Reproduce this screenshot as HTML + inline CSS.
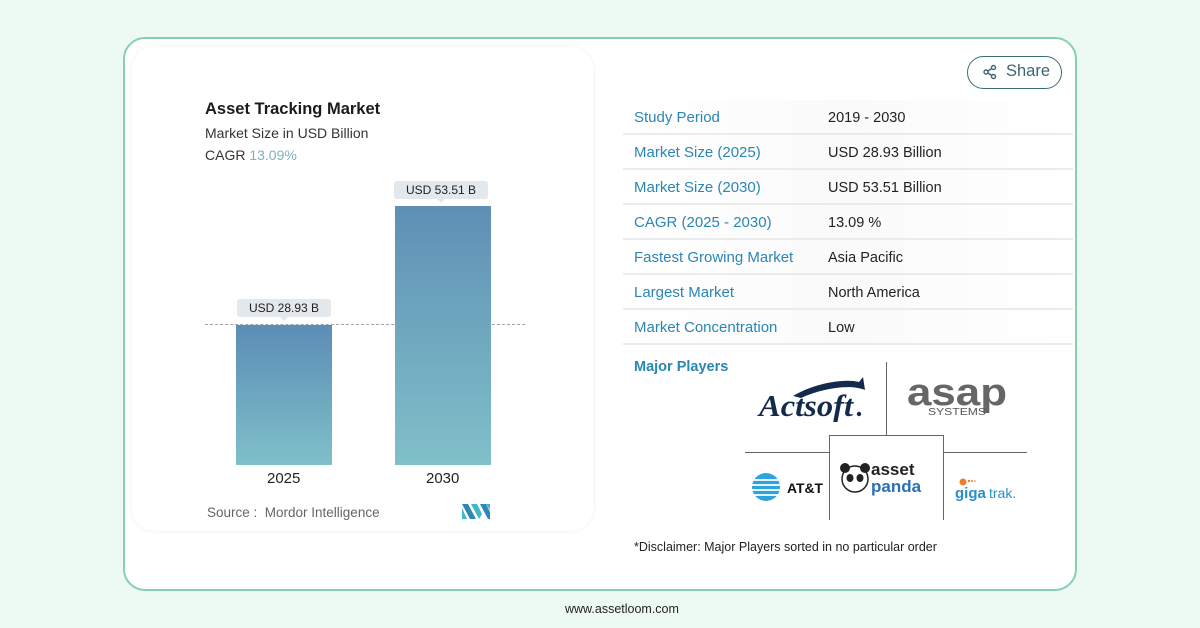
<!DOCTYPE html>
<html><head><meta charset="utf-8">
<style>
*{margin:0;padding:0;box-sizing:border-box}
html,body{width:1200px;height:628px;overflow:hidden;background:#edfaf3;font-family:"Liberation Sans",sans-serif}
.abs{position:absolute}
#outer{left:123px;top:37px;width:954px;height:554px;border:2px solid #86d0b2;border-radius:22px;background:#fff}
#inner{left:132px;top:47px;width:461px;height:484px;border-radius:22px;background:#fff;box-shadow:0 0 6px rgba(0,0,0,0.06)}
.t{position:absolute;white-space:nowrap}
.bar{position:absolute;background:linear-gradient(#5b8db5,#7fc0c9)}
.lbl{position:absolute;background:#e3e8ec;border-radius:3px;font-size:12px;color:#222;text-align:center;line-height:18px}
.lbl:after{content:"";position:absolute;left:50%;bottom:-4px;margin-left:-4px;border-left:4px solid transparent;border-right:4px solid transparent;border-top:4px solid #e3e8ec}
.row{position:absolute;left:623px;width:450px;height:35px;border-bottom:2px solid #eaecec;background:linear-gradient(90deg,#fff 0%,#fafafa 50%,#fff 100%)}
.k{position:absolute;left:11px;top:9px;font-size:15px;color:#2a86b4}
.v{position:absolute;left:205px;top:10px;font-size:14.5px;color:#222}
</style></head><body>
<div id="outer" class="abs"></div>
<div id="inner" class="abs"></div>

<div class="t" style="left:205px;top:100px;font-size:16.5px;font-weight:bold;color:#1b1b1b">Asset Tracking Market</div>
<div class="t" style="left:205px;top:125px;font-size:14px;color:#333">Market Size in USD Billion</div>
<div class="t" style="left:205px;top:147px;font-size:14px;color:#333">CAGR <span style="color:#7fb0c0">13.09%</span></div>

<div class="abs" style="left:205px;top:324px;width:320px;border-top:1.5px dashed #a0a5a9"></div>
<div class="bar" style="left:236px;top:325px;width:96px;height:140px"></div>
<div class="bar" style="left:395px;top:206px;width:96px;height:259px;background:linear-gradient(#5e90b5,#80c0c9)"></div>
<div class="lbl" style="left:237px;top:299px;width:94px;height:18px">USD 28.93 B</div>
<div class="lbl" style="left:394px;top:181px;width:94px;height:18px">USD 53.51 B</div>
<div class="t" style="left:267px;top:470px;font-size:15px;color:#222">2025</div>
<div class="t" style="left:426px;top:470px;font-size:15px;color:#222">2030</div>
<div class="t" style="left:207px;top:505px;font-size:13.5px;color:#666">Source :&nbsp; Mordor Intelligence</div>
<svg class="abs" style="left:462px;top:504px" width="28" height="15" viewBox="0 0 28 15">
<polygon points="0,0 6,0 14,15 8,15" fill="#2f86b8"/><polygon points="0,4 0,15 5,15" fill="#3fb8c8"/>
<polygon points="9,0 15,0 20,10 17,15" fill="#3fb8c8"/><polygon points="18,0 24,0 28,8 28,15 26,15" fill="#2f86b8"/>
<polygon points="24,0 28,0 28,6" fill="#3fb8c8"/>
</svg>

<div class="abs" style="left:967px;top:56px;width:95px;height:33px;border:1.5px solid #3a6e70;border-radius:17px"></div>
<svg class="abs" style="left:982px;top:64px" width="16" height="16" viewBox="0 0 16 16" fill="none" stroke="#3d6470" stroke-width="1.4">
<circle cx="11.5" cy="3.5" r="2"/><circle cx="4" cy="8" r="2"/><circle cx="11.5" cy="12.5" r="2"/><line x1="5.8" y1="7" x2="9.8" y2="4.5"/><line x1="5.8" y1="9" x2="9.8" y2="11.5"/>
</svg>
<div class="t" style="left:1006px;top:62px;font-size:16.5px;color:#3d6470">Share</div>

<div class="row" style="top:100px"><span class="k t">Study Period</span><span class="v t">2019 - 2030</span></div>
<div class="row" style="top:135px"><span class="k t">Market Size (2025)</span><span class="v t">USD 28.93 Billion</span></div>
<div class="row" style="top:170px"><span class="k t">Market Size (2030)</span><span class="v t">USD 53.51 Billion</span></div>
<div class="row" style="top:205px"><span class="k t">CAGR (2025 - 2030)</span><span class="v t">13.09 %</span></div>
<div class="row" style="top:240px"><span class="k t">Fastest Growing Market</span><span class="v t">Asia Pacific</span></div>
<div class="row" style="top:275px"><span class="k t">Largest Market</span><span class="v t">North America</span></div>
<div class="row" style="top:310px"><span class="k t">Market Concentration</span><span class="v t">Low</span></div>
<div class="t" style="left:634px;top:359px;font-size:14.5px;color:#2a86b4;font-weight:bold">Major Players</div>

<!-- logo grid lines -->
<div class="abs" style="left:886px;top:362px;width:1px;height:74px;background:#666"></div>
<div class="abs" style="left:745px;top:452px;width:84px;height:1px;background:#666"></div>
<div class="abs" style="left:943px;top:452px;width:84px;height:1px;background:#666"></div>
<div class="abs" style="left:829px;top:435px;width:115px;height:85px;border:1px solid #666;border-bottom:none"></div>

<svg class="abs" style="left:755px;top:374px" width="115" height="48" viewBox="0 0 115 48">
<path d="M38,22 C58,10 88,4 104,8 L108,3 L110,16 C96,10 68,14 46,24 Z" fill="#142a4d"/>
<text x="4" y="42" font-family="Liberation Serif,serif" font-style="italic" font-weight="bold" font-size="31" fill="#142a4d" textLength="94" lengthAdjust="spacingAndGlyphs">Actsoft</text>
<circle cx="104" cy="40" r="2.2" fill="#142a4d"/>
</svg>
<svg class="abs" style="left:906px;top:374px" width="106" height="45" viewBox="0 0 106 45">
<text x="1" y="31" font-family="Liberation Sans,sans-serif" font-weight="bold" font-size="38" fill="#666" textLength="100" lengthAdjust="spacingAndGlyphs">asap</text>
<text x="22" y="41" font-family="Liberation Sans,sans-serif" font-size="10" fill="#555" textLength="58" lengthAdjust="spacingAndGlyphs">SYSTEMS</text>
</svg>
<svg class="abs" style="left:750px;top:472px" width="80" height="32" viewBox="0 0 80 32">
<circle cx="16" cy="15" r="14" fill="#2ea3dc"/>
<g stroke="#fff" stroke-width="1.8"><line x1="2" y1="8" x2="30" y2="8"/><line x1="2" y1="13" x2="30" y2="13"/><line x1="2" y1="18" x2="30" y2="18"/><line x1="2" y1="23" x2="30" y2="23"/></g>
<text x="37" y="21" font-family="Liberation Sans,sans-serif" font-weight="bold" font-size="14" fill="#111" textLength="36" lengthAdjust="spacingAndGlyphs">AT&amp;T</text>
</svg>
<svg class="abs" style="left:838px;top:458px" width="92" height="40" viewBox="0 0 92 40">
<circle cx="17" cy="21" r="13" fill="#fff" stroke="#222" stroke-width="1.5"/>
<circle cx="7" cy="10" r="5" fill="#222"/><circle cx="27" cy="10" r="5" fill="#222"/>
<ellipse cx="12" cy="20" rx="3.5" ry="4" fill="#222"/><ellipse cx="22" cy="20" rx="3.5" ry="4" fill="#222"/>
<text x="33" y="17" font-family="Liberation Sans,sans-serif" font-weight="bold" font-size="17" fill="#222">asset</text>
<text x="33" y="34" font-family="Liberation Sans,sans-serif" font-weight="bold" font-size="17" fill="#2a70b8">panda</text>
</svg>
<svg class="abs" style="left:953px;top:474px" width="68" height="28" viewBox="0 0 68 28">
<circle cx="10" cy="8" r="3.5" fill="#ef7d2a"/><circle cx="16" cy="7" r="1.2" fill="#ef7d2a"/><circle cx="19" cy="7" r="1" fill="#ef7d2a"/><circle cx="22" cy="7" r="0.8" fill="#ef7d2a"/>
<text x="2" y="24" font-family="Liberation Sans,sans-serif" font-weight="bold" font-size="15" fill="#2a8fc8">giga</text>
<text x="36" y="24" font-family="Liberation Sans,sans-serif" font-size="14" fill="#2a8fc8">trak.</text>
</svg>

<div class="t" style="left:634px;top:540px;font-size:12.5px;color:#222">*Disclaimer: Major Players sorted in no particular order</div>
<div class="t" style="left:565px;top:602px;font-size:12.5px;color:#222">www.assetloom.com</div>
</body></html>
